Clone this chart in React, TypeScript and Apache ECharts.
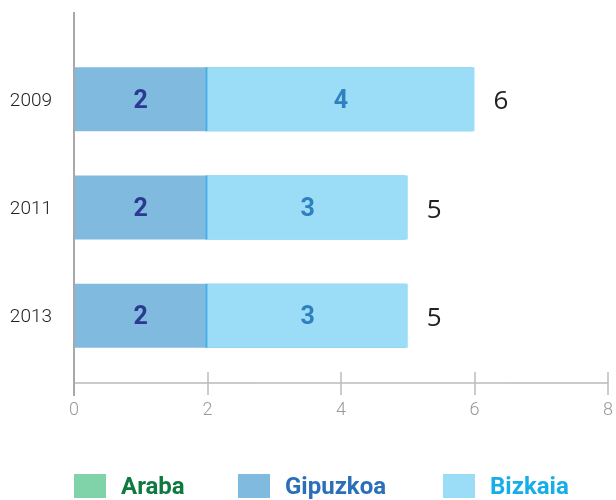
import React, { useEffect, useRef } from "react";
import * as echarts from "echarts";

const categories = ["2009", "2011", "2013"];
const araba = [0, 0, 0];
const gipuzkoa = [2, 2, 2];
const bizkaia = [4, 3, 3];
const totals = [6, 5, 5];
const xTicks = [0, 2, 4, 6, 8];

const COND = "Roboto, sans-serif";

export default function App() {
  const ref = useRef<HTMLDivElement>(null);
  useEffect(() => {
    if (!ref.current) return;
    const chart = echarts.init(ref.current, null, { renderer: "svg" });
    const xAxisBase = {
      type: "value",
      min: xTicks[0],
      max: xTicks[xTicks.length - 1],
      interval: 2,
      position: "bottom",
      offset: 13,
      splitLine: { show: false },
    };
    chart.setOption({
      animation: false,
      grid: { left: 74, width: 539, top: 45, height: 325 },
      legend: [
        { name: "Araba", left: 74, color: "#0e7a3f" },
        { name: "Gipuzkoa", left: 238, color: "#2a6fb8" },
        { name: "Bizkaia", left: 443, color: "#17aee8" },
      ].map((l) => ({
        data: [l.name],
        left: l.left,
        top: 474,
        padding: 0,
        itemWidth: 32,
        itemHeight: 24,
        itemGap: 12,
        icon: "rect",
        textStyle: {
          color: l.color,
          fontSize: 24,
          fontWeight: "bold",
          fontFamily: COND,
          padding: [0, 0, 0, 10],
        },
      })),
      xAxis: [
        {
          ...xAxisBase,
          axisLine: { show: true, lineStyle: { color: "#bbbbbb", width: 1.5 } },
          axisTick: { show: true, length: 12, lineStyle: { color: "#bbbbbb", width: 1.5 } },
          axisLabel: { color: "#999999", fontSize: 18, fontWeight: 300, margin: 16, fontFamily: COND },
        },
        {
          ...xAxisBase,
          axisLine: { show: false },
          axisTick: { show: true, inside: true, length: 11, lineStyle: { color: "#bbbbbb", width: 1.5 } },
          axisLabel: { show: false },
        },
      ],
      yAxis: {
        type: "category",
        data: categories,
        inverse: true,
        axisLine: { show: false },
        axisTick: { show: false },
        axisLabel: {
          color: "#222222",
          fontSize: 19,
          fontWeight: 300,
          margin: 22,
          fontFamily: COND,
          padding: [8, 0, 0, 0],
        },
      },
      graphic: [
        {
          type: "line",
          shape: { x1: 74, y1: 12, x2: 74, y2: 396 },
          style: { stroke: "#a8a8a8", lineWidth: 2 },
          z: 10,
        },
      ],
      series: [
        {
          name: "Araba",
          type: "bar",
          stack: "total",
          data: araba,
          barWidth: 64,
          itemStyle: { color: "#80d3a8" },
        },
        {
          name: "Gipuzkoa",
          type: "bar",
          stack: "total",
          data: gipuzkoa,
          barWidth: 64,
          itemStyle: { color: "#80bbdf" },
          label: {
            show: true,
            position: "inside",
            color: "#2b3990",
            fontSize: 25,
            fontWeight: "bold",
            fontFamily: COND,
          },
        },
        {
          name: "Bizkaia",
          type: "bar",
          stack: "total",
          data: bizkaia,
          barWidth: 64,
          itemStyle: {
            color: "#9bddf6",
            shadowColor: "#45b0e5",
            shadowOffsetX: -2,
            shadowBlur: 0,
          },
          label: {
            show: true,
            position: "inside",
            color: "#2f7fc1",
            fontSize: 25,
            fontWeight: "bold",
            fontFamily: COND,
          },
        },
        {
          name: "Total",
          type: "bar",
          data: totals,
          barWidth: 64,
          barGap: "-100%",
          z: 1,
          itemStyle: { color: "rgba(0,0,0,0)" },
          label: {
            show: true,
            position: "right",
            distance: 19,
            color: "#222222",
            fontSize: 26,
            fontFamily: "'Open Sans', sans-serif",
          },
        },
      ],
    });
    return () => chart.dispose();
  }, []);
  return (
    <div
      ref={ref}
      style={{ position: "fixed", left: 0, top: 0, width: 616, height: 500 }}
    />
  );
}
